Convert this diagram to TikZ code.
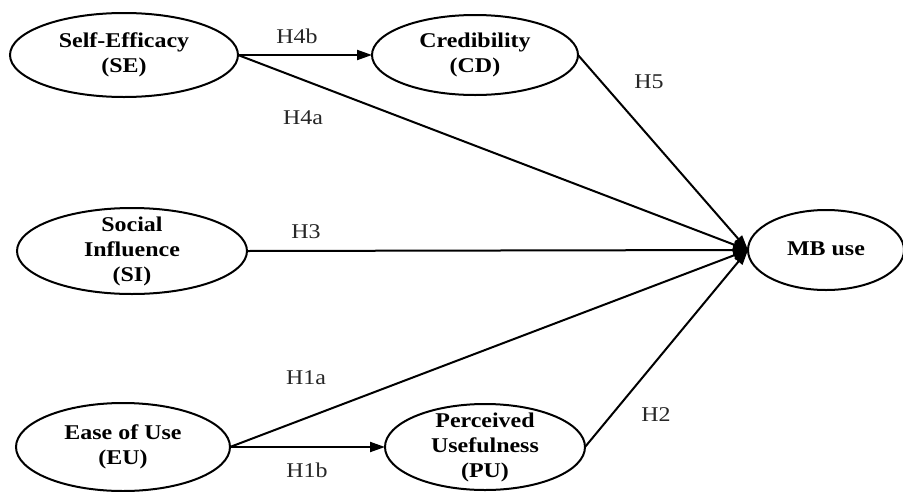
\documentclass[tikz,border=0pt]{standalone}
\usepackage{fontspec}
\setmainfont{Liberation Serif}
\usetikzlibrary{shapes.geometric,arrows.meta}
\newcommand{\nodetxt}[1]{\scalebox{1.14}[1]{\fontsize{21}{25}\selectfont\bfseries\begin{tabular}{@{}c@{}}#1\end{tabular}}}
\newcommand{\hyptxt}[1]{\scalebox{1.14}[1]{\fontsize{21}{25}\selectfont #1}}
\tikzset{
  ell/.style={ellipse, draw=black, line width=2pt, inner sep=0pt, outer sep=0pt},
  arr/.style={line width=2pt, -{Triangle[length=15pt,width=10pt]}},
  hyp/.style={inner sep=0pt, text=black!85}
}
\begin{document}
\begin{tikzpicture}[x=1pt,y=-1pt]
\useasboundingbox[fill=white] (0,0) rectangle (903,491);
\node[ell, minimum width=228pt, minimum height=84pt, label={center:\nodetxt{Self-Efficacy\\(SE)}}] (se) at (124,55) {};
\node[ell, minimum width=206pt, minimum height=80pt, label={center:\nodetxt{Credibility\\(CD)}}] (cd) at (475,55) {};
\node[ell, minimum width=230pt, minimum height=86pt, label={center:\nodetxt{Social\\Influence\\(SI)}}] (si) at (132,251) {};
\node[ell, minimum width=214pt, minimum height=88pt, label={center:\nodetxt{Ease of Use\\(EU)}}] (eu) at (123,447) {};
\node[ell, minimum width=200pt, minimum height=86pt, label={center:\nodetxt{Perceived\\Usefulness\\(PU)}}] (pu) at (485,447) {};
\node[ell, minimum width=156pt, minimum height=80pt, label={center:\nodetxt{MB use}}] (mb) at (826,250) {};

\draw[arr] (se.east) -- (cd.west);
\draw[arr] (se.east) -- (mb.west);
\draw[arr] (cd.east) -- (mb.west);
\draw[arr] (si.east) -- (mb.west);
\draw[arr] (eu.east) -- (mb.west);
\draw[arr] (eu.east) -- (pu.west);
\draw[arr] (pu.east) -- (mb.west);

\node[hyp] (h4b) at (297,36) {\hyptxt{H4b}};
\node[hyp] (h4a) at (303,118) {\hyptxt{H4a}};
\node[hyp] (h5) at (649,82) {\hyptxt{H5}};
\node[hyp] (h3) at (306,232) {\hyptxt{H3}};
\node[hyp] (h1a) at (306,378) {\hyptxt{H1a}};
\node[hyp] (h1b) at (307,470) {\hyptxt{H1b}};
\node[hyp] (h2) at (656,415) {\hyptxt{H2}};
\end{tikzpicture}
\end{document}
